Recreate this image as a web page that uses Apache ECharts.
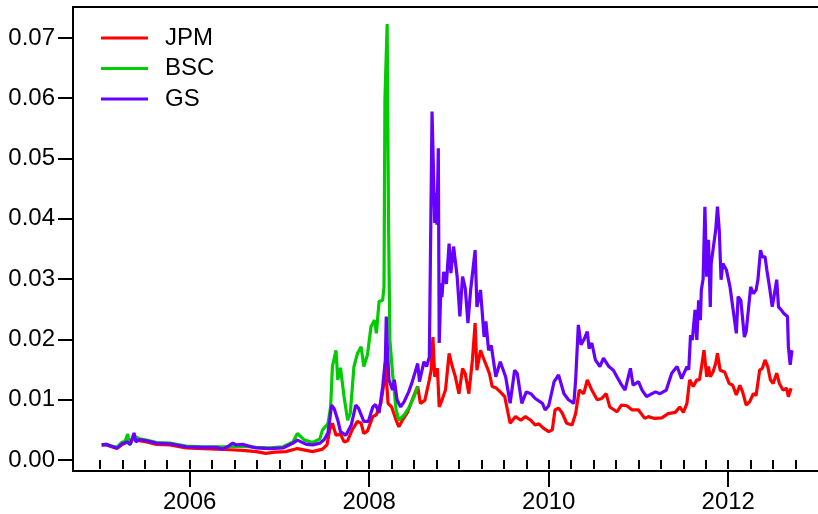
<!DOCTYPE html>
<html>
<head>
<meta charset="utf-8">
<script src="https://cdn.jsdelivr.net/npm/echarts@6/dist/echarts.min.js"></script>
<style>html,body{margin:0;padding:0;background:#fff;}#c{width:818px;height:514px;}</style>
</head>
<body>
<div id="c"></div>
<script>
// [decimal year, value]
const JPM = [
[2005.02,0.0025],[2005.07,0.0025],[2005.13,0.0022],[2005.19,0.0019],[2005.25,0.0026],[2005.31,0.0030],[2005.38,0.0036],[2005.44,0.0032],[2005.52,0.0030],[2005.63,0.0026],[2005.78,0.0025],[2005.96,0.0020],
[2006.15,0.0019],[2006.30,0.0018],[2006.45,0.0017],[2006.59,0.0016],[2006.74,0.0014],[2006.85,0.0011],[2006.95,0.0013],[2007.07,0.0014],[2007.20,0.0019],[2007.30,0.0016],[2007.37,0.0014],[2007.48,0.0018],
[2007.53,0.0025],[2007.56,0.0050],[2007.59,0.0061],[2007.63,0.0041],[2007.68,0.0043],[2007.72,0.0030],[2007.76,0.0032],[2007.81,0.0050],[2007.87,0.0064],[2007.91,0.0061],[2007.94,0.0044],[2007.98,0.0048],
[2008.04,0.0072],[2008.08,0.0075],[2008.11,0.0088],[2008.13,0.0094],[2008.17,0.0133],[2008.18,0.0160],[2008.21,0.0094],[2008.25,0.0088],[2008.30,0.0066],[2008.33,0.0055],[2008.37,0.0066],[2008.43,0.0080],
[2008.48,0.0100],[2008.54,0.0122],[2008.57,0.0094],[2008.62,0.0099],[2008.67,0.0133],[2008.69,0.0149],[2008.71,0.0204],[2008.73,0.0138],[2008.76,0.0152],[2008.78,0.0088],[2008.81,0.0099],[2008.85,0.0116],
[2008.89,0.0177],[2008.92,0.0158],[2008.96,0.0138],[2009.00,0.0110],[2009.04,0.0152],[2009.07,0.0143],[2009.11,0.0110],[2009.15,0.0166],[2009.18,0.0227],[2009.20,0.0149],[2009.24,0.0182],[2009.27,0.0170],
[2009.31,0.0155],[2009.34,0.0143],[2009.37,0.0122],[2009.41,0.0120],[2009.46,0.0113],[2009.51,0.0105],[2009.57,0.0061],[2009.63,0.0072],[2009.69,0.0066],[2009.74,0.0072],[2009.80,0.0066],[2009.85,0.0058],
[2009.89,0.0060],[2009.94,0.0053],[2010.00,0.0047],[2010.04,0.0050],[2010.07,0.0083],[2010.11,0.0086],[2010.15,0.0078],[2010.20,0.0061],[2010.26,0.0058],[2010.30,0.0077],[2010.34,0.0116],[2010.39,0.0110],
[2010.43,0.0133],[2010.48,0.0116],[2010.54,0.0100],[2010.59,0.0102],[2010.64,0.0110],[2010.68,0.0088],[2010.76,0.0080],[2010.81,0.0091],[2010.87,0.0090],[2010.93,0.0083],[2011.00,0.0083],[2011.07,0.0069],
[2011.11,0.0072],[2011.18,0.0069],[2011.26,0.0070],[2011.33,0.0077],[2011.41,0.0079],[2011.46,0.0088],[2011.50,0.0079],[2011.54,0.0094],[2011.57,0.0133],[2011.61,0.0122],[2011.65,0.0133],[2011.68,0.0133],
[2011.70,0.0152],[2011.73,0.0182],[2011.76,0.0138],[2011.78,0.0155],[2011.80,0.0138],[2011.83,0.0146],[2011.86,0.0160],[2011.88,0.0177],[2011.91,0.0149],[2011.96,0.0146],[2012.01,0.0127],[2012.05,0.0124],
[2012.09,0.0108],[2012.13,0.0124],[2012.16,0.0113],[2012.20,0.0091],[2012.24,0.0097],[2012.28,0.0110],[2012.31,0.0107],[2012.35,0.0149],[2012.38,0.0152],[2012.41,0.0166],[2012.44,0.0155],[2012.47,0.0133],
[2012.50,0.0127],[2012.54,0.0144],[2012.57,0.0127],[2012.61,0.0116],[2012.65,0.0119],[2012.67,0.0105],[2012.70,0.0119]
];
const BSC = [
[2005.02,0.0025],[2005.07,0.0026],[2005.13,0.0023],[2005.19,0.0021],[2005.24,0.0029],[2005.28,0.0031],[2005.31,0.0043],[2005.33,0.0025],[2005.38,0.0040],[2005.44,0.0035],[2005.52,0.0033],[2005.63,0.0029],
[2005.78,0.0028],[2005.96,0.0023],[2006.15,0.0022],[2006.30,0.0022],[2006.45,0.0022],[2006.59,0.0023],[2006.74,0.0021],[2006.89,0.0020],[2007.04,0.0022],[2007.15,0.0030],[2007.20,0.0044],[2007.28,0.0033],
[2007.37,0.0029],[2007.45,0.0035],[2007.48,0.0050],[2007.54,0.0060],[2007.57,0.0088],[2007.59,0.0155],[2007.63,0.0182],[2007.65,0.0133],[2007.68,0.0153],[2007.72,0.0105],[2007.76,0.0066],[2007.79,0.0078],
[2007.83,0.0155],[2007.87,0.0177],[2007.91,0.0188],[2007.94,0.0155],[2007.98,0.0174],[2008.02,0.0221],[2008.06,0.0232],[2008.08,0.0210],[2008.11,0.0263],[2008.15,0.0265],[2008.165,0.0287],[2008.175,0.0597],
[2008.20,0.0723],[2008.215,0.0400],[2008.23,0.0200],[2008.26,0.0144],[2008.30,0.0083],[2008.33,0.0066],[2008.39,0.0075],[2008.44,0.0086],[2008.50,0.0105],[2008.54,0.0122]
];
const GS = [
[2005.02,0.0025],[2005.07,0.0026],[2005.13,0.0023],[2005.19,0.0020],[2005.25,0.0027],[2005.30,0.0030],[2005.34,0.0026],[2005.38,0.0045],[2005.40,0.0030],[2005.44,0.0034],[2005.52,0.0032],[2005.63,0.0028],
[2005.78,0.0027],[2005.96,0.0022],[2006.15,0.0021],[2006.30,0.0021],[2006.37,0.0018],[2006.44,0.0024],[2006.48,0.0028],[2006.52,0.0025],[2006.59,0.0026],[2006.74,0.0020],[2006.89,0.0019],[2007.04,0.0020],
[2007.15,0.0028],[2007.20,0.0033],[2007.30,0.0026],[2007.37,0.0025],[2007.45,0.0028],[2007.50,0.0034],[2007.54,0.0045],[2007.56,0.0066],[2007.58,0.0091],[2007.61,0.0085],[2007.65,0.0066],[2007.68,0.0047],
[2007.74,0.0041],[2007.80,0.0058],[2007.85,0.0091],[2007.88,0.0086],[2007.94,0.0064],[2007.99,0.0064],[2008.04,0.0088],[2008.07,0.0092],[2008.11,0.0078],[2008.15,0.0122],[2008.18,0.0166],[2008.19,0.0238],
[2008.20,0.0194],[2008.22,0.0133],[2008.26,0.0116],[2008.28,0.0133],[2008.31,0.0100],[2008.35,0.0088],[2008.39,0.0097],[2008.44,0.0113],[2008.48,0.0130],[2008.54,0.0160],[2008.56,0.0130],[2008.61,0.0163],
[2008.64,0.0155],[2008.67,0.0171],[2008.70,0.0578],[2008.73,0.0393],[2008.745,0.0443],[2008.755,0.0390],[2008.77,0.0517],[2008.78,0.0194],[2008.80,0.0293],[2008.81,0.0270],[2008.83,0.0312],[2008.86,0.0292],
[2008.89,0.0359],[2008.91,0.0310],[2008.94,0.0354],[2008.98,0.0304],[2009.01,0.0238],[2009.04,0.0304],[2009.07,0.0285],[2009.10,0.0227],[2009.13,0.0282],[2009.18,0.0348],[2009.20,0.0254],[2009.24,0.0282],
[2009.28,0.0204],[2009.30,0.0230],[2009.33,0.0182],[2009.36,0.0190],[2009.41,0.0138],[2009.46,0.0163],[2009.52,0.0138],[2009.57,0.0094],[2009.62,0.0149],[2009.65,0.0143],[2009.70,0.0094],[2009.75,0.0113],
[2009.80,0.0110],[2009.85,0.0102],[2009.93,0.0094],[2009.96,0.0083],[2010.00,0.0090],[2010.06,0.0130],[2010.11,0.0141],[2010.17,0.0110],[2010.22,0.0100],[2010.28,0.0094],[2010.30,0.0133],[2010.33,0.0224],
[2010.36,0.0191],[2010.39,0.0199],[2010.43,0.0213],[2010.45,0.0185],[2010.48,0.0194],[2010.52,0.0166],[2010.57,0.0155],[2010.61,0.0169],[2010.67,0.0155],[2010.72,0.0149],[2010.76,0.0138],[2010.81,0.0125],
[2010.85,0.0116],[2010.91,0.0152],[2010.94,0.0124],[2011.00,0.0130],[2011.04,0.0116],[2011.09,0.0105],[2011.15,0.0110],[2011.19,0.0113],[2011.24,0.0110],[2011.31,0.0116],[2011.37,0.0144],[2011.43,0.0155],
[2011.48,0.0135],[2011.54,0.0155],[2011.56,0.0150],[2011.58,0.0207],[2011.60,0.0199],[2011.63,0.0249],[2011.65,0.0199],[2011.67,0.0265],[2011.69,0.0232],[2011.70,0.0282],[2011.72,0.0300],[2011.74,0.0420],
[2011.76,0.0304],[2011.78,0.0365],[2011.80,0.0254],[2011.81,0.0326],[2011.83,0.0348],[2011.86,0.0381],[2011.88,0.0420],[2011.90,0.0381],[2011.92,0.0299],[2011.94,0.0326],[2011.98,0.0315],[2012.02,0.0287],
[2012.06,0.0243],[2012.09,0.0210],[2012.11,0.0271],[2012.14,0.0265],[2012.18,0.0204],[2012.20,0.0213],[2012.25,0.0287],[2012.28,0.0276],[2012.31,0.0282],[2012.33,0.0298],[2012.36,0.0348],[2012.38,0.0337],
[2012.41,0.0337],[2012.43,0.0315],[2012.46,0.0287],[2012.49,0.0254],[2012.51,0.0271],[2012.54,0.0299],[2012.56,0.0254],[2012.59,0.0249],[2012.62,0.0243],[2012.66,0.0238],[2012.67,0.0188],[2012.69,0.0158],
[2012.71,0.0182]
];
const seriesNames = ['JPM','BSC','GS'];
const seriesColors = ['#ff0000','#00cc00','#6600ff'];
const xTickLabels = [2006, 2008, 2010, 2012];
const xMinorTicks = [];
for (let q = 0; q < 32; q++) xMinorTicks.push(2005 + q * 0.25);
const yTickLabels = [0, 0.01, 0.02, 0.03, 0.04, 0.05, 0.06, 0.07];

const FONT = 'Liberation Sans, Arial, sans-serif';
const chart = echarts.init(document.getElementById('c'), null, {renderer: 'canvas'});
const axisMin = 2004.7, axisMax = 2013.0;
chart.setOption({
  animation: false,
  backgroundColor: '#fff',
  grid: {left: 73, right: 0, top: 7, bottom: 43, containLabel: false},
  legend: {
    left: 96, top: 21, orient: 'vertical',
    itemWidth: 47, itemHeight: 3, itemGap: 6.5,
    icon: 'rect',
    data: seriesNames,
    textStyle: {fontFamily: FONT, fontSize: 24, color: '#000', lineHeight: 24, padding: [0,0,0,12]}
  },
  xAxis: [
    {type: 'value', min: axisMin, max: axisMax, position: 'bottom', offset: 0,
     axisLine: {show: true, onZero: false, lineStyle: {color: '#000', width: 2}},
     axisTick: {show: true, customValues: xTickLabels, length: 16, lineStyle: {color: '#000', width: 2}},
     axisLabel: {show: true, customValues: xTickLabels, margin: 19, fontFamily: FONT, fontSize: 24, color: '#000', formatter: v => String(Math.round(v))},
     splitLine: {show: false}},
    {type: 'value', min: axisMin, max: axisMax, position: 'bottom', offset: 0,
     axisLine: {show: false},
     axisTick: {show: true, customValues: xMinorTicks, length: 9, lineStyle: {color: '#000', width: 2}},
     axisLabel: {show: false},
     splitLine: {show: false}},
    {type: 'value', min: axisMin, max: axisMax, position: 'top', offset: 0,
     axisLine: {show: true, onZero: false, lineStyle: {color: '#000', width: 2}},
     axisTick: {show: false}, axisLabel: {show: false}, splitLine: {show: false}}
  ],
  yAxis: {
    type: 'value', min: -0.00182, max: 0.07512,
    axisLine: {show: true, onZero: false, lineStyle: {color: '#000', width: 2}},
    axisTick: {show: true, customValues: yTickLabels, length: 15, lineStyle: {color: '#000', width: 2}},
    axisLabel: {show: true, customValues: yTickLabels, margin: 18, fontFamily: FONT, fontSize: 24, color: '#000', formatter: v => v.toFixed(2)},
    splitLine: {show: false}
  },
  series: [JPM, BSC, GS].map((d, i) => ({
    name: seriesNames[i], type: 'line', xAxisIndex: 0, data: d,
    showSymbol: false, symbol: 'none',
    lineStyle: {color: seriesColors[i], width: 3.2},
    itemStyle: {color: seriesColors[i]}
  }))
});
</script>
</body>
</html>
